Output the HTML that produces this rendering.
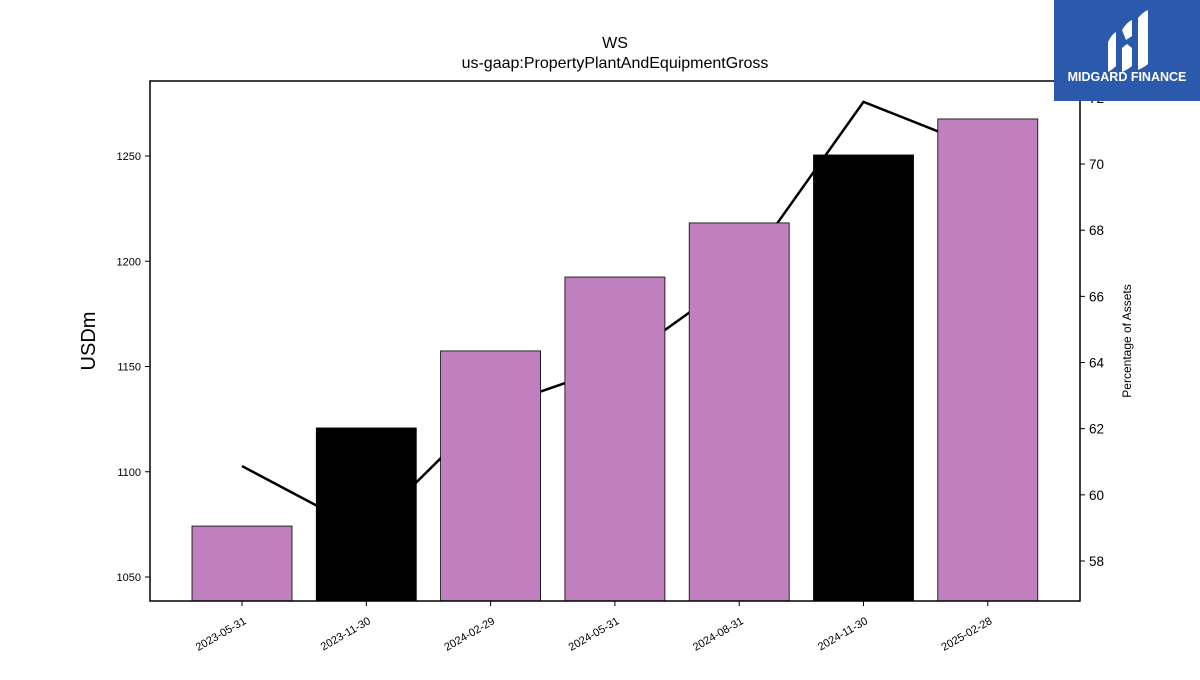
<!DOCTYPE html>
<html><head><meta charset="utf-8"><style>
body{margin:0;background:#fff;width:1200px;height:675px;overflow:hidden;font-family:"Liberation Sans",sans-serif}
</style></head><body>
<svg id="c" width="1200" height="675" xmlns="http://www.w3.org/2000/svg" font-family="Liberation Sans, sans-serif">
<g id="plot"></g>
<g>
<rect x="1054" y="0" width="146" height="101" fill="#2b5aad"/>
<path d="M1108 42 Q1112 34 1116 32 L1116 66 Q1112 70 1108 72 Z" fill="#fff"/>
<path d="M1122 30 Q1127 22 1132 20 L1132 36 L1126 40 Z M1122 48 L1127 44 L1132 48 L1132 66 Q1127 70 1122 72 Z" fill="#fff"/>
<path d="M1138 18 Q1143 12 1148 10 L1148 64 Q1143 68 1138 70 Z" fill="#fff"/>
<text x="1127" y="81" text-anchor="middle" font-size="12.5" font-weight="bold" fill="#fff">MIDGARD FINANCE</text>
</g>
</svg>
<script>
const categories=["2023-05-31","2023-11-30","2024-02-29","2024-05-31","2024-08-31","2024-11-30","2025-02-28"];
const barValues=[1074.2,1120.8,1157.4,1192.5,1218.2,1250.5,1267.6];
const barColors=["#bf80bd","#000000","#bf80bd","#bf80bd","#bf80bd","#000000","#bf80bd"];
const pctValues=[60.87,58.88,62.6,63.9,66.59,71.88,70.39];
const leftTicks=[1050,1100,1150,1200,1250];
const rightTicks=[58,60,62,64,66,68,70,72];
const NS="http://www.w3.org/2000/svg";
const g=document.getElementById('plot');
const X0=150,X1=1080,Y0=81,Y1=601;
const yL=v=>577-(v-1050)*2.105;
const yR=v=>561-(v-58)*33.08;
const step=124.3, xC=i=>242+i*step;
function el(t,a,p){const e=document.createElementNS(NS,t);for(const k in a)e.setAttribute(k,a[k]);(p||g).appendChild(e);return e;}
// line (behind bars)
let pts=pctValues.map((v,i)=>xC(i)+","+yR(v)).join(" ");
const ln=el('polyline',{points:pts,fill:"none",stroke:"#000","stroke-width":2.5});


barValues.forEach((v,i)=>{
 const r=el('rect',{x:xC(i)-50,y:yL(v),width:100,height:Y1-yL(v),fill:barColors[i],stroke:"#000","stroke-width":0.8});
 
 
});
const fr=el('rect',{x:X0,y:Y0,width:X1-X0,height:Y1-Y0,fill:"none",stroke:"#000","stroke-width":1.5});


leftTicks.forEach(v=>{const y=yL(v);el('line',{x1:X0-5,x2:X0,y1:y,y2:y,stroke:"#000"});
 const t=el('text',{x:X0-9,y:y+4,"text-anchor":"end","font-size":11});t.textContent=v;
 
 });
rightTicks.forEach(v=>{const y=yR(v);el('line',{x1:X1,x2:X1+5,y1:y,y2:y,stroke:"#000"});
 const t=el('text',{x:X1+9,y:y+5,"font-size":13.5});t.textContent=v;
 
 });
categories.forEach((c,i)=>{const x=xC(i);el('line',{x1:x,x2:x,y1:Y1,y2:Y1+5,stroke:"#000"});
 const t=el('text',{x:x+5,y:Y1+22,"text-anchor":"end","font-size":11,transform:`rotate(-30 ${x+5} ${Y1+22})`});t.textContent=c;
 
 });
function txt(s,a,n){const t=el('text',a);t.textContent=s;}
txt("WS",{x:615,y:48,"text-anchor":"middle","font-size":16},'chart-title');
txt("us-gaap:PropertyPlantAndEquipmentGross",{x:615,y:68,"text-anchor":"middle","font-size":16},'chart-subtitle');
txt("USDm",{x:95,y:341,"text-anchor":"middle","font-size":20,transform:"rotate(-90 95 341)"},'y-axis-title');
txt("Percentage of Assets",{x:1131,y:341,"text-anchor":"middle","font-size":12,transform:"rotate(-90 1131 341)"},'y2-axis-title');
</script>
</body></html>
